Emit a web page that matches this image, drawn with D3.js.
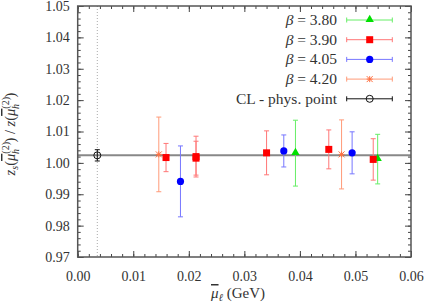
<!DOCTYPE html>
<html>
<head>
<meta charset="utf-8">
<title>z_s ratio vs mu_l</title>
<script src="https://d3js.org/d3.v7.min.js"></script>
<style>
  body { margin: 0; background: #fff; }
  svg text { font-family: "Liberation Serif", "DejaVu Serif", serif; fill: #333; }
</style>
</head>
<body>
<svg id="chart" width="424" height="306"></svg>
<script>

// data: [mu_l, value, error]
var beta380 = [[0.0392, 1.0031, 0.0105], [0.0540, 1.0012, 0.0079]];
var beta390 = [[0.0159, 1.0017, 0.0045], [0.0213, 1.0020, 0.0065], [0.0213, 1.0015, 0.0054],
               [0.0340, 1.0032, 0.0070], [0.0452, 1.0043, 0.0062], [0.0532, 1.0011, 0.0066]];
var beta405 = [[0.0185, 0.9941, 0.0113], [0.0371, 1.0038, 0.0051], [0.0494, 1.0032, 0.0067]];
var beta420 = [[0.0146, 1.0027, 0.0119], [0.0475, 1.0027, 0.0110]];
var physPoint = [[0.00353, 1.0024, 0.0018]];

var xTicks = [0, 0.01, 0.02, 0.03, 0.04, 0.05, 0.06];
var yTicks = [0.97, 0.98, 0.99, 1.00, 1.01, 1.02, 1.03, 1.04, 1.05];

var series = [
  { label: "3.80", data: beta380, color: "#00e000", bar: "#66ee66", marker: "triangle" },
  { label: "3.90", data: beta390, color: "#ff0000", bar: "#ff7777", marker: "square" },
  { label: "4.05", data: beta405, color: "#0000ff", bar: "#7777ff", marker: "circle" },
  { label: "4.20", data: beta420, color: "#ff7040", bar: "#ff9a78", marker: "star" },
  { label: "CL - phys. point", data: physPoint, color: "#111", bar: "#111", marker: "open" }
];

var svg = d3.select("#chart");
var pl = 77.7, pr = 411, pt = 6, pb = 257;

var x = d3.scaleLinear().domain([0, 0.06]).range([pl, pr]);
var y = d3.scaleLinear().domain([0.97, 1.05]).range([pb, pt]);

// dotted vertical line at the physical point
svg.append("line")
  .attr("x1", x(physPoint[0][0])).attr("x2", x(physPoint[0][0]))
  .attr("y1", y(1.05)).attr("y2", y(0.97))
  .attr("stroke", "#aaa").attr("stroke-width", 1).attr("stroke-dasharray", "1,2");

// horizontal line at the continuum value
svg.append("line")
  .attr("x1", x(0)).attr("x2", x(0.06))
  .attr("y1", y(physPoint[0][1])).attr("y2", y(physPoint[0][1]))
  .attr("stroke", "#888").attr("stroke-width", 2);

// axes: major + minor ticks, inward, mirrored
function minor(domain, step) {
  var out = [];
  for (var v = domain[0]; v <= domain[1] + 1e-9; v += step) out.push(+v.toFixed(4));
  return out;
}
var xMinor = minor([0, 0.06], 0.002);
var yMinor = minor([0.97, 1.05], 0.002);

var axes = svg.append("g");
axes.append("g").attr("transform", "translate(0," + pb + ")")
  .call(d3.axisBottom(x).tickValues(xMinor).tickSize(-3).tickFormat(""));
axes.append("g").attr("transform", "translate(0," + pb + ")")
  .call(d3.axisBottom(x).tickValues(xTicks).tickSize(-6).tickPadding(14).tickFormat(d3.format(".2f")));
axes.append("g").attr("transform", "translate(0," + pt + ")")
  .call(d3.axisTop(x).tickValues(xMinor).tickSize(-3).tickFormat(""));
axes.append("g").attr("transform", "translate(0," + pt + ")")
  .call(d3.axisTop(x).tickValues(xTicks).tickSize(-6).tickFormat(""));
axes.append("g").attr("transform", "translate(" + pl + ",0)")
  .call(d3.axisLeft(y).tickValues(yMinor).tickSize(-3).tickFormat(""));
axes.append("g").attr("transform", "translate(" + pl + ",0)")
  .call(d3.axisLeft(y).tickValues(yTicks).tickSize(-6).tickPadding(8).tickFormat(d3.format(".2f")));
axes.append("g").attr("transform", "translate(" + pr + ",0)")
  .call(d3.axisRight(y).tickValues(yMinor).tickSize(-3).tickFormat(""));
axes.append("g").attr("transform", "translate(" + pr + ",0)")
  .call(d3.axisRight(y).tickValues(yTicks).tickSize(-6).tickFormat(""));

axes.selectAll(".domain").remove();
axes.selectAll(".tick line").attr("stroke", "#444").attr("stroke-width", 1);
axes.selectAll(".tick text").attr("font-size", 14).attr("fill", "#333")
  .style("font-family", "Liberation Serif, serif");

svg.append("rect")
  .attr("x", pl).attr("y", pt).attr("width", pr - pl).attr("height", pb - pt)
  .attr("fill", "none").attr("stroke", "#555").attr("stroke-width", 1.5);

// marker drawing
function drawMarker(g, type, cx, cy, color) {
  if (type === "triangle") {
    g.append("path").attr("d", d3.symbol().type(d3.symbolTriangle).size(30)())
      .attr("transform", "translate(" + cx + "," + (cy - 0.5) + ")").attr("fill", color);
  } else if (type === "square") {
    g.append("rect").attr("x", cx - 3.5).attr("y", cy - 3.5).attr("width", 7).attr("height", 7)
      .attr("fill", color);
  } else if (type === "circle") {
    g.append("circle").attr("cx", cx).attr("cy", cy).attr("r", 3.6).attr("fill", color);
  } else if (type === "star") {
    var s = 3;
    g.append("path")
      .attr("d", "M" + (cx - s) + "," + cy + "H" + (cx + s) + "M" + cx + "," + (cy - s) + "V" + (cy + s) +
        "M" + (cx - s) + "," + (cy - s) + "L" + (cx + s) + "," + (cy + s) +
        "M" + (cx - s) + "," + (cy + s) + "L" + (cx + s) + "," + (cy - s))
      .attr("stroke", color).attr("stroke-width", 1);
  } else {
    g.append("circle").attr("cx", cx).attr("cy", cy).attr("r", 3.5)
      .attr("fill", "none").attr("stroke", color).attr("stroke-width", 1);
  }
}

var cap = 2.5;
series.forEach(function(s) {
  var g = svg.append("g");
  s.data.forEach(function(d) {
    var px = x(d[0]), y1 = y(d[1] + d[2]), y0 = y(d[1] - d[2]);
    g.append("path")
      .attr("d", "M" + px + "," + y1 + "V" + y0 +
        "M" + (px - cap) + "," + y1 + "H" + (px + cap) +
        "M" + (px - cap) + "," + y0 + "H" + (px + cap))
      .attr("stroke", s.bar).attr("stroke-width", 1).attr("fill", "none");
  });
  s.data.forEach(function(d) {
    drawMarker(g, s.marker, x(d[0]), y(d[1]), s.color);
  });
});

// legend
var legend = svg.append("g");
series.forEach(function(s, i) {
  var ly = 20 + i * 19.7;
  var t = legend.append("text").attr("x", 337).attr("y", ly + 5).attr("text-anchor", "end")
    .attr("font-size", 15.5);
  if (s.marker !== "open") {
    t.append("tspan").attr("font-style", "italic").text("β");
    t.append("tspan").text(" = " + s.label);
  } else {
    t.text(s.label);
  }
  legend.append("path")
    .attr("d", "M346.7," + ly + "H392.3M346.7," + (ly - cap) + "V" + (ly + cap) +
      "M392.3," + (ly - cap) + "V" + (ly + cap))
    .attr("stroke", s.bar).attr("stroke-width", 1);
  drawMarker(legend, s.marker, 369.7, ly, s.color);
});

// axis labels; the bar over mu is drawn as an overline on its own tspan
var xl = svg.append("text").attr("x", 238).attr("y", 298).attr("text-anchor", "middle")
  .attr("font-size", 15);
xl.append("tspan").attr("font-style", "italic").style("text-decoration", "overline").text("μ");
xl.append("tspan").attr("font-style", "italic").attr("font-size", 10.5).attr("dy", 3).text("ℓ");
xl.append("tspan").attr("dy", -3).text(" (GeV)");

var yl = svg.append("text").attr("transform", "translate(15,134) rotate(-90)")
  .attr("text-anchor", "middle").attr("font-size", 14.5).attr("font-style", "italic");
function muBar(t) {
  t.append("tspan").style("text-decoration", "overline").text("μ");
  t.append("tspan").attr("font-size", 10).attr("font-style", "normal").attr("dy", -6.5).text("(2)");
  t.append("tspan").attr("font-size", 10).attr("dx", -12).attr("dy", 10).text("h");
  t.append("tspan").attr("font-style", "normal").attr("dx", 6.5).attr("dy", -3.5).text(")");
}
yl.append("tspan").text("z");
yl.append("tspan").attr("font-size", 10).attr("dy", 3).text("s");
yl.append("tspan").attr("dy", -3).attr("font-style", "normal").text("(");
muBar(yl);
yl.append("tspan").attr("font-style", "normal").text(" / ");
yl.append("tspan").text("z");
yl.append("tspan").attr("font-style", "normal").text("(");
muBar(yl);

</script>
</body>
</html>
